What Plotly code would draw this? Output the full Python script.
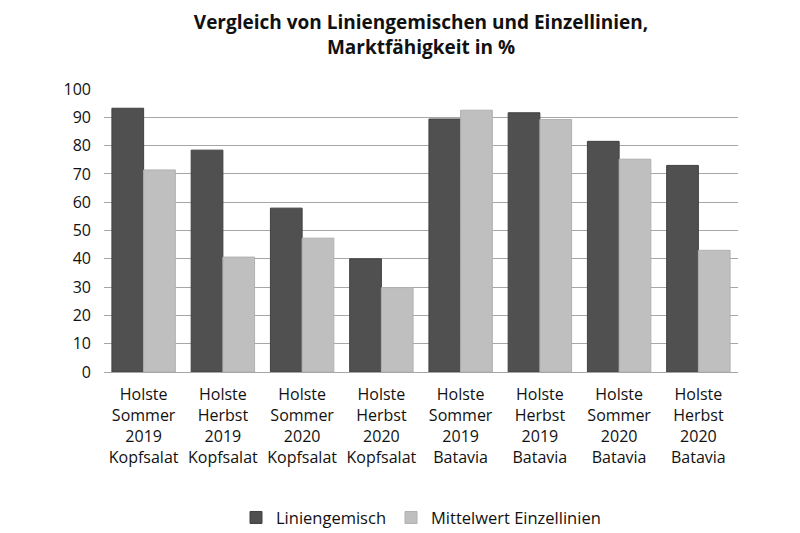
import plotly.graph_objects as go

categories = [
    "Holste<br>Sommer<br>2019<br>Kopfsalat",
    "Holste<br>Herbst<br>2019<br>Kopfsalat",
    "Holste<br>Sommer<br>2020<br>Kopfsalat",
    "Holste<br>Herbst<br>2020<br>Kopfsalat",
    "Holste<br>Sommer<br>2019<br>Batavia",
    "Holste<br>Herbst<br>2019<br>Batavia",
    "Holste<br>Sommer<br>2020<br>Batavia",
    "Holste<br>Herbst<br>2020<br>Batavia",
]
liniengemisch = [93.2, 78.4, 57.9, 40.0, 89.4, 91.6, 81.5, 73.0]
einzellinien = [71.4, 40.6, 47.3, 29.8, 92.5, 89.2, 75.2, 43.0]
y_ticks = list(range(0, 101, 10))

font_family = "Open Sans, Liberation Sans, sans-serif"

fig = go.Figure()
fig.add_trace(go.Bar(
    x=categories, y=liniengemisch, name="Liniengemisch",
    marker=dict(color="#505050", line=dict(color="#404040", width=1)),
))
fig.add_trace(go.Bar(
    x=categories, y=einzellinien, name="Mittelwert Einzellinien",
    marker=dict(color="#bfbfbf", line=dict(color="#b0b0b0", width=1)),
))

fig.update_layout(
    width=800, height=533,
    paper_bgcolor="white", plot_bgcolor="white",
    margin=dict(l=104, r=62, t=89, b=161, autoexpand=False),
    barmode="group", bargap=0.2, bargroupgap=0,
    font=dict(family=font_family, size=15, color="#111111"),
    title=dict(
        text="<b>Vergleich von Liniengemischen und Einzellinien,<br>Marktfähigkeit in %</b>",
        x=0.5, xanchor="center", xref="paper",
        yref="container", y=1 - 29 / 533, yanchor="middle",
        font=dict(family=font_family, size=19, color="#111111"),
    ),
    legend=dict(
        orientation="h", x=0.5, xanchor="center", y=-0.515, yanchor="middle",
        font=dict(family=font_family, size=16.5),
    ),
    showlegend=True,
)
fig.update_yaxes(
    range=[0, 100], tickvals=y_ticks, showgrid=True, gridcolor="#a6a6a6",
    gridwidth=1, zeroline=False, showline=False, ticks="", ticklen=0,
    tickfont=dict(size=16), automargin=False, ticklabelstandoff=12,
)
fig.update_xaxes(
    showline=True, linecolor="#a6a6a6", linewidth=1, ticks="",
    tickfont=dict(size=16), tickangle=0, automargin=False,
    ticklabelstandoff=8,
)

fig.write_html("out.html")
